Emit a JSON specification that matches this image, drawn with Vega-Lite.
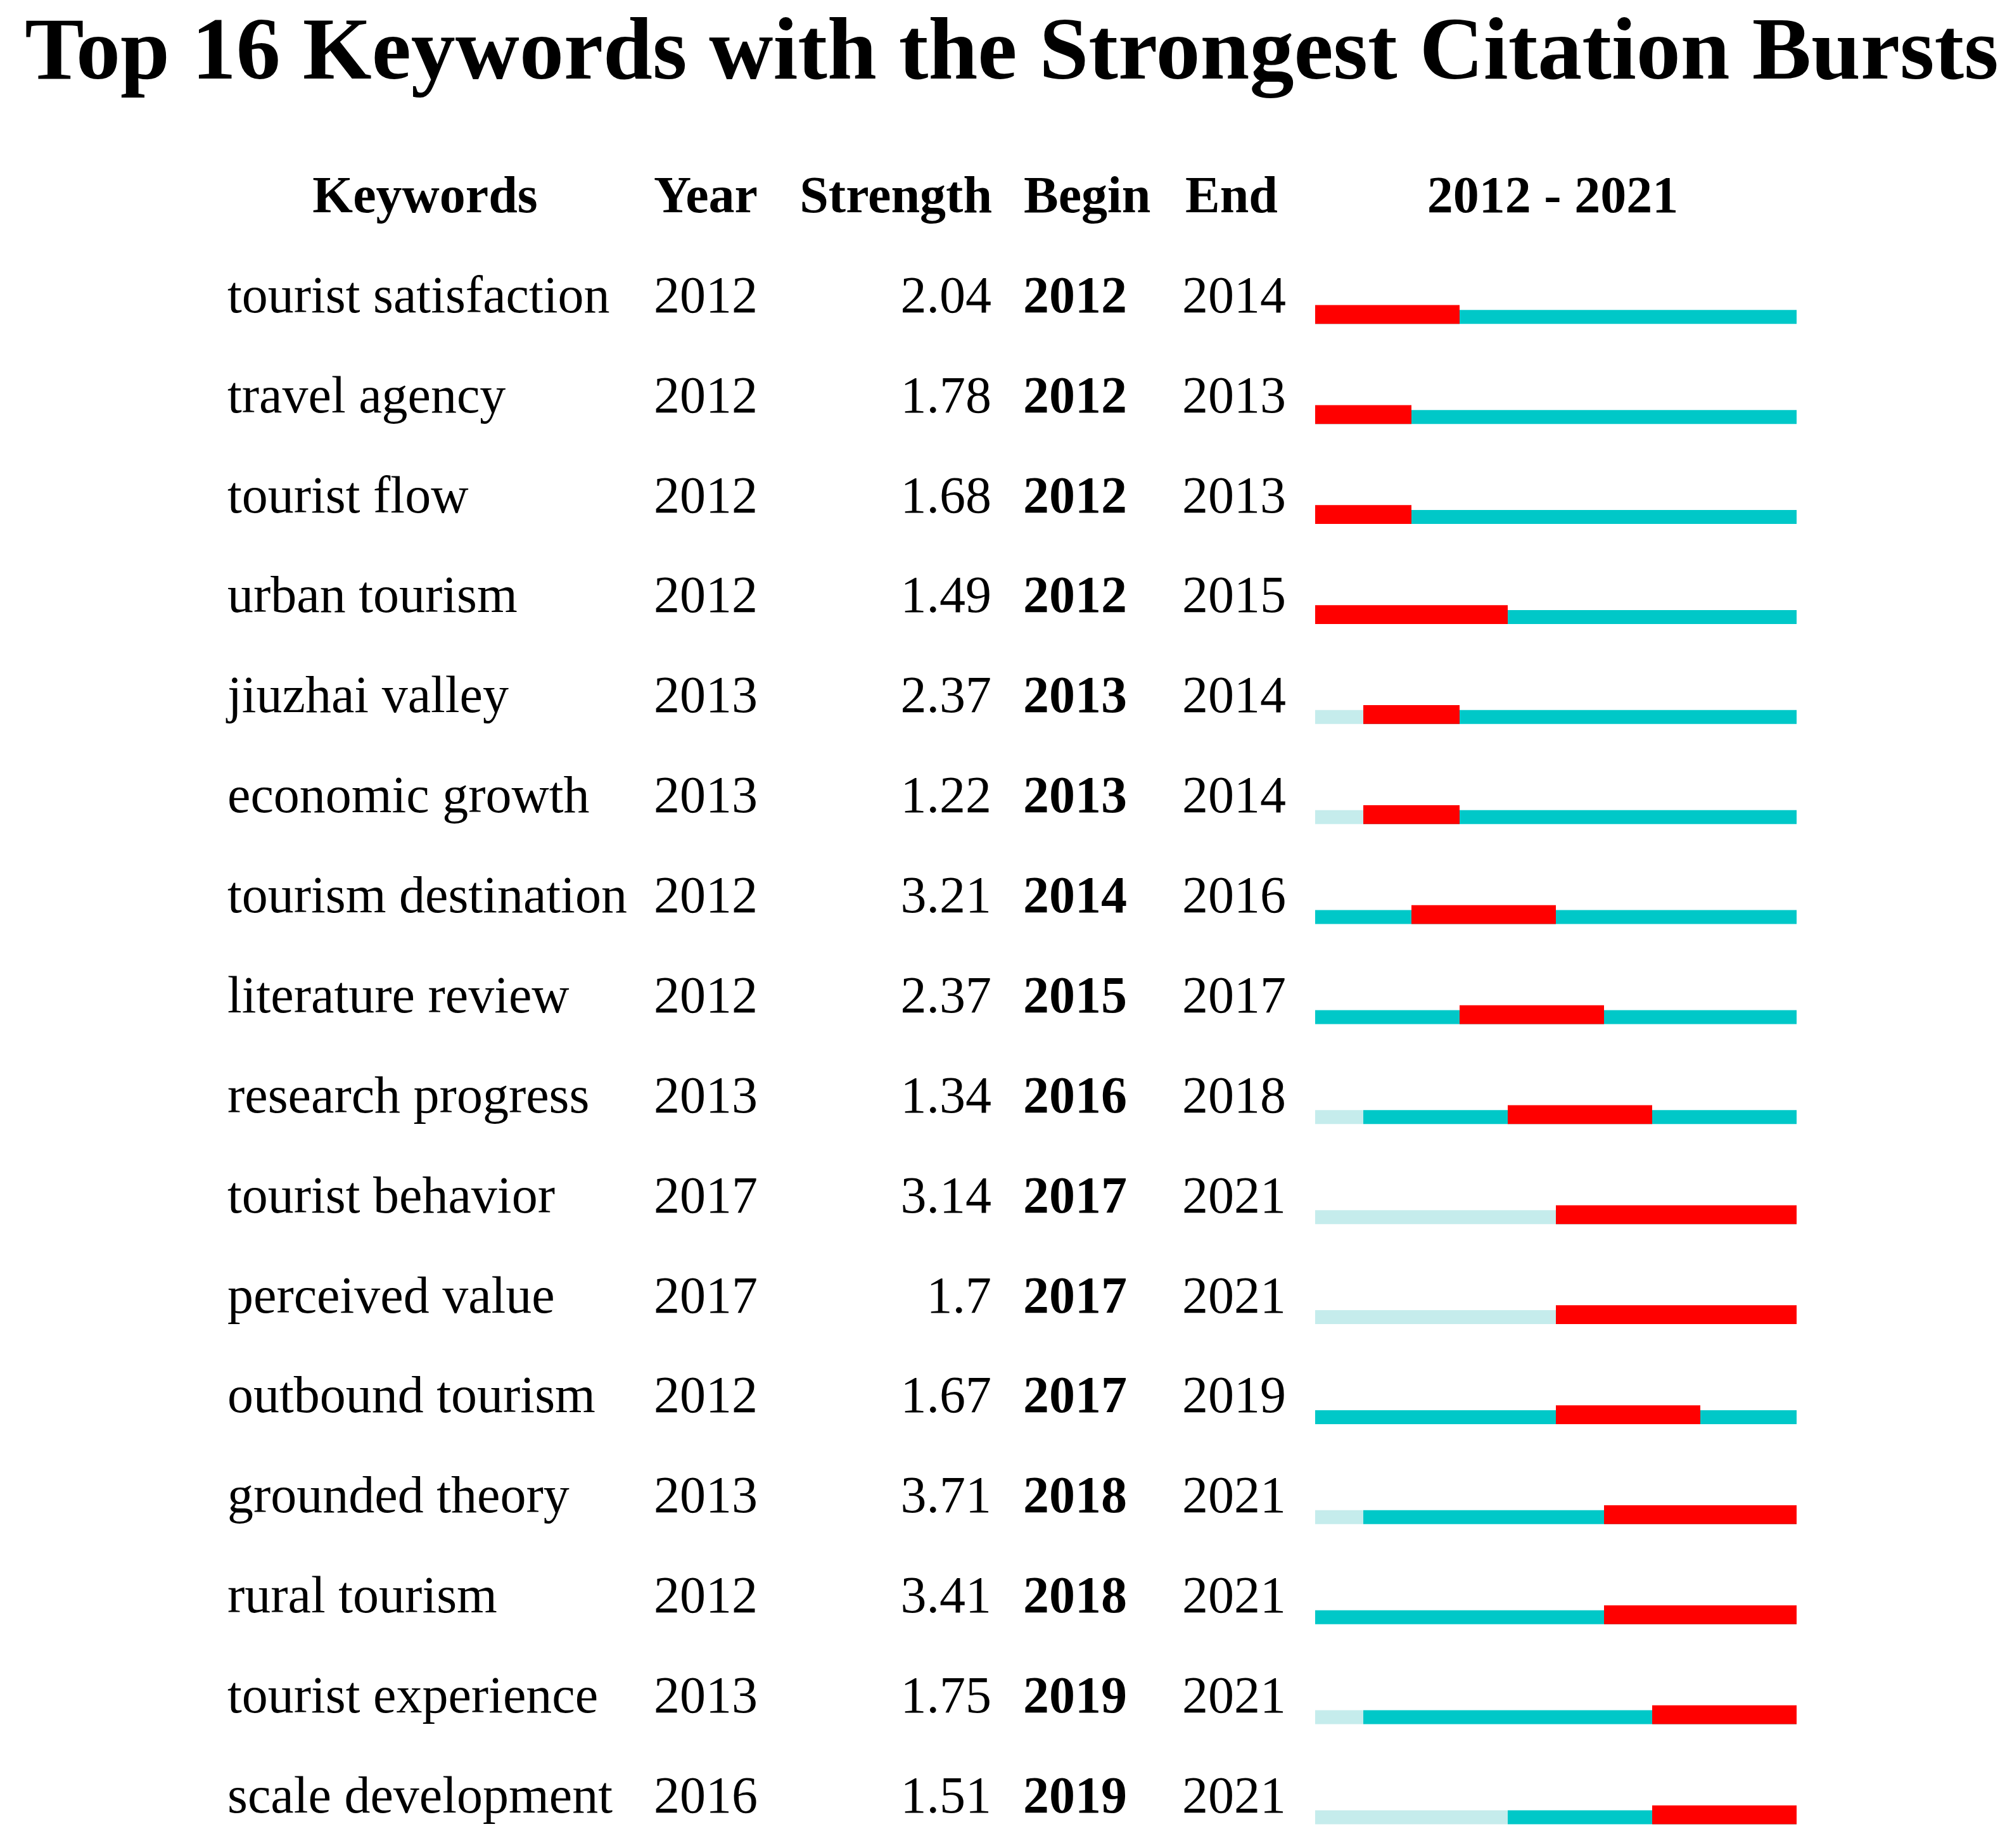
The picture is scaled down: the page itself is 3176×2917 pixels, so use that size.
{
  "$schema": "https://vega.github.io/schema/vega-lite/v6.json",
  "autosize": {"type": "none"},
  "width": 3176,
  "height": 2767,
  "padding": {"top": 150, "left": 0, "right": 0, "bottom": 0},
  "background": "white",
  "title": {"text": "Top 16 Keywords with the Strongest Citation Bursts", "font": "Liberation Serif", "fontSize": 140, "fontWeight": "bold", "color": "black", "anchor": "middle", "offset": 0, "dx": 9, "dy": 3},
  "config": {"view": {"stroke": null}},
  "datasets": {
    "bursts": [
      {"rank": 1, "keyword": "tourist satisfaction", "year": 2012, "strength": "2.04", "begin": 2012, "end": 2014, "from": 2012, "to": 2021},
      {"rank": 2, "keyword": "travel agency", "year": 2012, "strength": "1.78", "begin": 2012, "end": 2013, "from": 2012, "to": 2021},
      {"rank": 3, "keyword": "tourist flow", "year": 2012, "strength": "1.68", "begin": 2012, "end": 2013, "from": 2012, "to": 2021},
      {"rank": 4, "keyword": "urban tourism", "year": 2012, "strength": "1.49", "begin": 2012, "end": 2015, "from": 2012, "to": 2021},
      {"rank": 5, "keyword": "jiuzhai valley", "year": 2013, "strength": "2.37", "begin": 2013, "end": 2014, "from": 2012, "to": 2021},
      {"rank": 6, "keyword": "economic growth", "year": 2013, "strength": "1.22", "begin": 2013, "end": 2014, "from": 2012, "to": 2021},
      {"rank": 7, "keyword": "tourism destination", "year": 2012, "strength": "3.21", "begin": 2014, "end": 2016, "from": 2012, "to": 2021},
      {"rank": 8, "keyword": "literature review", "year": 2012, "strength": "2.37", "begin": 2015, "end": 2017, "from": 2012, "to": 2021},
      {"rank": 9, "keyword": "research progress", "year": 2013, "strength": "1.34", "begin": 2016, "end": 2018, "from": 2012, "to": 2021},
      {"rank": 10, "keyword": "tourist behavior", "year": 2017, "strength": "3.14", "begin": 2017, "end": 2021, "from": 2012, "to": 2021},
      {"rank": 11, "keyword": "perceived value", "year": 2017, "strength": "1.7", "begin": 2017, "end": 2021, "from": 2012, "to": 2021},
      {"rank": 12, "keyword": "outbound tourism", "year": 2012, "strength": "1.67", "begin": 2017, "end": 2019, "from": 2012, "to": 2021},
      {"rank": 13, "keyword": "grounded theory", "year": 2013, "strength": "3.71", "begin": 2018, "end": 2021, "from": 2012, "to": 2021},
      {"rank": 14, "keyword": "rural tourism", "year": 2012, "strength": "3.41", "begin": 2018, "end": 2021, "from": 2012, "to": 2021},
      {"rank": 15, "keyword": "tourist experience", "year": 2013, "strength": "1.75", "begin": 2019, "end": 2021, "from": 2012, "to": 2021},
      {"rank": 16, "keyword": "scale development", "year": 2016, "strength": "1.51", "begin": 2019, "end": 2021, "from": 2012, "to": 2021}
    ],
    "headers": [
      {"rank": 0, "label": "Keywords", "col": "kwh"},
      {"rank": 0, "label": "Year", "col": "year"},
      {"rank": 0, "label": "Strength", "col": "strength"},
      {"rank": 0, "label": "Begin", "col": "begin"},
      {"rank": 0, "label": "End", "col": "endh"},
      {"rank": 0, "label": "2012 - 2021", "col": "span"}
    ]
  },
  "layer": [
    {
      "data": {"name": "bursts"},
      "mark": {"type": "bar", "color": "#C5ECEC", "height": 22, "yOffset": 7.4},
      "encoding": {
        "x": {"field": "from", "type": "quantitative", "scale": {"domain": [2012, 2022], "range": [2076, 2836]}, "axis": null},
        "x2": {"field": "year"},
        "y": {"field": "rank", "type": "ordinal", "scale": {"type": "point", "domain": [0,1,2,3,4,5,6,7,8,9,10,11,12,13,14,15,16], "padding": 0.7633, "align": 0.7676}, "axis": null}
      }
    },
    {
      "data": {"name": "bursts"},
      "mark": {"type": "bar", "color": "#00C8C8", "height": 22, "yOffset": 7.4, "x2Offset": 76},
      "encoding": {
        "x": {"field": "year", "type": "quantitative", "scale": {"domain": [2012, 2022], "range": [2076, 2836]}, "axis": null},
        "x2": {"field": "to"},
        "y": {"field": "rank", "type": "ordinal", "axis": null}
      }
    },
    {
      "data": {"name": "bursts"},
      "mark": {"type": "bar", "color": "#FF0000", "height": 29.7, "yOffset": 3.55, "x2Offset": 76},
      "encoding": {
        "x": {"field": "begin", "type": "quantitative", "scale": {"domain": [2012, 2022], "range": [2076, 2836]}, "axis": null},
        "x2": {"field": "end"},
        "y": {"field": "rank", "type": "ordinal", "axis": null}
      }
    },
    {
      "data": {"name": "bursts"},
      "transform": [{"fold": ["keyword"], "as": ["col", "val"]}],
      "mark": {"type": "text", "align": "left", "baseline": "alphabetic", "font": "Liberation Serif", "fontSize": 82, "color": "black"},
      "encoding": {
        "x": {"field": "col", "type": "nominal", "scale": {"type": "point", "domain": ["keyword"], "range": [359, 359]}, "axis": null},
        "y": {"field": "rank", "type": "ordinal", "axis": null},
        "text": {"field": "val", "type": "nominal"}
      }
    },
    {
      "data": {"name": "bursts"},
      "transform": [{"fold": ["year"], "as": ["col", "val"]}],
      "mark": {"type": "text", "align": "left", "baseline": "alphabetic", "font": "Liberation Serif", "fontSize": 82, "color": "black"},
      "encoding": {
        "x": {"field": "col", "type": "nominal", "scale": {"type": "point", "domain": ["year"], "range": [1032, 1032]}, "axis": null},
        "y": {"field": "rank", "type": "ordinal", "axis": null},
        "text": {"field": "val", "type": "nominal"}
      }
    },
    {
      "data": {"name": "bursts"},
      "transform": [{"fold": ["strength"], "as": ["col", "val"]}],
      "mark": {"type": "text", "align": "right", "baseline": "alphabetic", "font": "Liberation Serif", "fontSize": 82, "color": "black"},
      "encoding": {
        "x": {"field": "col", "type": "nominal", "scale": {"type": "point", "domain": ["strength"], "range": [1565, 1565]}, "axis": null},
        "y": {"field": "rank", "type": "ordinal", "axis": null},
        "text": {"field": "val", "type": "nominal"}
      }
    },
    {
      "data": {"name": "bursts"},
      "transform": [{"fold": ["begin"], "as": ["col", "val"]}],
      "mark": {"type": "text", "align": "left", "baseline": "alphabetic", "font": "Liberation Serif", "fontSize": 82, "fontWeight": "bold", "color": "black"},
      "encoding": {
        "x": {"field": "col", "type": "nominal", "scale": {"type": "point", "domain": ["begin"], "range": [1615, 1615]}, "axis": null},
        "y": {"field": "rank", "type": "ordinal", "axis": null},
        "text": {"field": "val", "type": "nominal"}
      }
    },
    {
      "data": {"name": "bursts"},
      "transform": [{"fold": ["end"], "as": ["col", "val"]}],
      "mark": {"type": "text", "align": "left", "baseline": "alphabetic", "font": "Liberation Serif", "fontSize": 82, "color": "black"},
      "encoding": {
        "x": {"field": "col", "type": "nominal", "scale": {"type": "point", "domain": ["end"], "range": [1866, 1866]}, "axis": null},
        "y": {"field": "rank", "type": "ordinal", "axis": null},
        "text": {"field": "val", "type": "nominal"}
      }
    },
    {
      "data": {"name": "headers"},
      "transform": [{"filter": "datum.col === 'kwh'"}],
      "mark": {"type": "text", "align": "center", "baseline": "alphabetic", "font": "Liberation Serif", "fontSize": 82, "fontWeight": "bold", "color": "black"},
      "encoding": {
        "x": {"field": "col", "type": "nominal", "scale": {"type": "point", "domain": ["kwh"], "range": [671, 671]}, "axis": null},
        "y": {"field": "rank", "type": "ordinal", "axis": null},
        "text": {"field": "label", "type": "nominal"}
      }
    },
    {
      "data": {"name": "headers"},
      "transform": [{"filter": "datum.col === 'year'"}],
      "mark": {"type": "text", "align": "left", "baseline": "alphabetic", "font": "Liberation Serif", "fontSize": 82, "fontWeight": "bold", "color": "black"},
      "encoding": {
        "x": {"field": "col", "type": "nominal", "scale": {"type": "point", "domain": ["year"], "range": [1032, 1032]}, "axis": null},
        "y": {"field": "rank", "type": "ordinal", "axis": null},
        "text": {"field": "label", "type": "nominal"}
      }
    },
    {
      "data": {"name": "headers"},
      "transform": [{"filter": "datum.col === 'strength'"}],
      "mark": {"type": "text", "align": "right", "baseline": "alphabetic", "font": "Liberation Serif", "fontSize": 82, "fontWeight": "bold", "color": "black"},
      "encoding": {
        "x": {"field": "col", "type": "nominal", "scale": {"type": "point", "domain": ["strength"], "range": [1566, 1566]}, "axis": null},
        "y": {"field": "rank", "type": "ordinal", "axis": null},
        "text": {"field": "label", "type": "nominal"}
      }
    },
    {
      "data": {"name": "headers"},
      "transform": [{"filter": "datum.col === 'begin'"}],
      "mark": {"type": "text", "align": "left", "baseline": "alphabetic", "font": "Liberation Serif", "fontSize": 82, "fontWeight": "bold", "color": "black"},
      "encoding": {
        "x": {"field": "col", "type": "nominal", "scale": {"type": "point", "domain": ["begin"], "range": [1616, 1616]}, "axis": null},
        "y": {"field": "rank", "type": "ordinal", "axis": null},
        "text": {"field": "label", "type": "nominal"}
      }
    },
    {
      "data": {"name": "headers"},
      "transform": [{"filter": "datum.col === 'endh'"}],
      "mark": {"type": "text", "align": "center", "baseline": "alphabetic", "font": "Liberation Serif", "fontSize": 82, "fontWeight": "bold", "color": "black"},
      "encoding": {
        "x": {"field": "col", "type": "nominal", "scale": {"type": "point", "domain": ["endh"], "range": [1944, 1944]}, "axis": null},
        "y": {"field": "rank", "type": "ordinal", "axis": null},
        "text": {"field": "label", "type": "nominal"}
      }
    },
    {
      "data": {"name": "headers"},
      "transform": [{"filter": "datum.col === 'span'"}],
      "mark": {"type": "text", "align": "center", "baseline": "alphabetic", "font": "Liberation Serif", "fontSize": 82, "fontWeight": "bold", "color": "black"},
      "encoding": {
        "x": {"field": "col", "type": "nominal", "scale": {"type": "point", "domain": ["span"], "range": [2451, 2451]}, "axis": null},
        "y": {"field": "rank", "type": "ordinal", "axis": null},
        "text": {"field": "label", "type": "nominal"}
      }
    }
  ],
  "resolve": {"scale": {"x": "independent"}}
}
